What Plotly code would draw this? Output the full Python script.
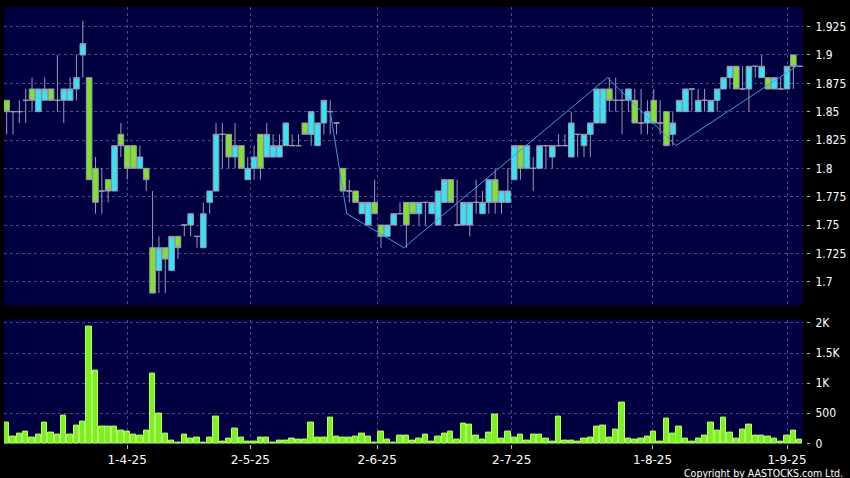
import pandas as pd
import plotly.graph_objects as go

# ---------------- data ----------------
OPEN = [1.86, 1.85, 1.85, 1.86, 1.87, 1.85, 1.86, 1.87, 1.86, 1.86,
        1.86, 1.87, 1.90, 1.88, 1.80, 1.78, 1.79, 1.78, 1.83, 1.82,
        1.82, 1.80, 1.80, 1.73, 1.71, 1.73, 1.71, 1.74, 1.75, 1.75,
        1.74, 1.73, 1.77, 1.78, 1.83, 1.83, 1.81, 1.82, 1.79, 1.80,
        1.83, 1.81, 1.81, 1.81, 1.82, 1.82, 1.82, 1.84, 1.83, 1.82,
        1.84, 1.85, 1.84, 1.80, 1.78, 1.78, 1.76, 1.75, 1.77, 1.75,
        1.74, 1.75, 1.76, 1.77, 1.77, 1.76, 1.77, 1.76, 1.75, 1.77,
        1.79, 1.75, 1.75, 1.75, 1.77, 1.76, 1.77, 1.79, 1.77, 1.77,
        1.79, 1.82, 1.80, 1.80, 1.80, 1.82, 1.81, 1.82, 1.82, 1.81,
        1.83, 1.82, 1.83, 1.84, 1.84, 1.87, 1.86, 1.86, 1.86, 1.86,
        1.84, 1.84, 1.86, 1.84, 1.85, 1.83, 1.85, 1.85, 1.87, 1.85,
        1.86, 1.85, 1.86, 1.87, 1.88, 1.89, 1.87, 1.87, 1.89, 1.88,
        1.88, 1.87, 1.87, 1.87, 1.90, 1.89]
HIGH = [1.86, 1.85, 1.86, 1.87, 1.88, 1.87, 1.88, 1.87, 1.90, 1.87,
        1.88, 1.90, 1.93, 1.88, 1.81, 1.80, 1.79, 1.82, 1.84, 1.82,
        1.82, 1.82, 1.80, 1.78, 1.74, 1.73, 1.74, 1.74, 1.75, 1.76,
        1.74, 1.77, 1.78, 1.84, 1.84, 1.83, 1.84, 1.82, 1.81, 1.82,
        1.83, 1.84, 1.83, 1.83, 1.84, 1.83, 1.83, 1.84, 1.85, 1.84,
        1.86, 1.86, 1.84, 1.80, 1.79, 1.78, 1.77, 1.77, 1.79, 1.75,
        1.75, 1.76, 1.77, 1.77, 1.77, 1.77, 1.77, 1.77, 1.78, 1.79,
        1.79, 1.79, 1.77, 1.77, 1.79, 1.78, 1.79, 1.80, 1.78, 1.80,
        1.82, 1.82, 1.82, 1.81, 1.82, 1.82, 1.82, 1.83, 1.83, 1.85,
        1.83, 1.83, 1.84, 1.87, 1.87, 1.88, 1.88, 1.87, 1.87, 1.87,
        1.87, 1.86, 1.87, 1.86, 1.85, 1.85, 1.86, 1.87, 1.87, 1.87,
        1.87, 1.86, 1.87, 1.88, 1.89, 1.89, 1.89, 1.89, 1.89, 1.90,
        1.88, 1.88, 1.88, 1.89, 1.90, 1.89]
LOW = [1.83, 1.83, 1.84, 1.84, 1.85, 1.85, 1.86, 1.86, 1.85, 1.84,
       1.86, 1.86, 1.88, 1.79, 1.76, 1.76, 1.77, 1.78, 1.81, 1.79,
       1.80, 1.80, 1.78, 1.69, 1.69, 1.69, 1.71, 1.72, 1.74, 1.74,
       1.73, 1.73, 1.76, 1.78, 1.80, 1.80, 1.80, 1.80, 1.79, 1.79,
       1.79, 1.81, 1.81, 1.81, 1.82, 1.82, 1.82, 1.83, 1.82, 1.82,
       1.83, 1.83, 1.83, 1.78, 1.77, 1.77, 1.76, 1.75, 1.76, 1.73,
       1.74, 1.75, 1.76, 1.73, 1.76, 1.75, 1.75, 1.76, 1.75, 1.77,
       1.77, 1.75, 1.75, 1.74, 1.76, 1.76, 1.76, 1.76, 1.76, 1.77,
       1.79, 1.79, 1.80, 1.78, 1.80, 1.80, 1.80, 1.82, 1.82, 1.81,
       1.81, 1.81, 1.81, 1.84, 1.84, 1.85, 1.85, 1.83, 1.85, 1.84,
       1.83, 1.83, 1.84, 1.83, 1.82, 1.82, 1.85, 1.85, 1.85, 1.85,
       1.85, 1.85, 1.85, 1.87, 1.87, 1.87, 1.87, 1.85, 1.88, 1.88,
       1.87, 1.87, 1.87, 1.87, 1.87, 1.89]
CLOSE = [1.85, 1.85, 1.85, 1.86, 1.86, 1.87, 1.87, 1.86, 1.86, 1.87,
         1.87, 1.88, 1.91, 1.79, 1.77, 1.78, 1.78, 1.82, 1.82, 1.80,
         1.80, 1.81, 1.79, 1.69, 1.73, 1.72, 1.74, 1.73, 1.75, 1.76,
         1.74, 1.76, 1.78, 1.83, 1.83, 1.81, 1.82, 1.80, 1.80, 1.81,
         1.80, 1.83, 1.82, 1.82, 1.84, 1.82, 1.82, 1.83, 1.85, 1.84,
         1.86, 1.85, 1.84, 1.78, 1.78, 1.77, 1.77, 1.77, 1.76, 1.74,
         1.75, 1.76, 1.76, 1.75, 1.76, 1.77, 1.77, 1.77, 1.78, 1.79,
         1.77, 1.75, 1.77, 1.77, 1.77, 1.77, 1.79, 1.77, 1.78, 1.78,
         1.82, 1.80, 1.82, 1.80, 1.82, 1.82, 1.82, 1.82, 1.82, 1.84,
         1.83, 1.83, 1.84, 1.87, 1.87, 1.86, 1.86, 1.86, 1.87, 1.84,
         1.84, 1.85, 1.84, 1.84, 1.82, 1.84, 1.86, 1.87, 1.87, 1.86,
         1.86, 1.86, 1.87, 1.88, 1.89, 1.87, 1.87, 1.89, 1.89, 1.89,
         1.87, 1.88, 1.87, 1.89, 1.89, 1.89]
VOLUME = [350, 121, 165, 198, 99, 143, 346, 181, 154, 456,
          154, 302, 362, 1943, 1202, 275, 275, 275, 220, 192,
          148, 137, 209, 1153, 489, 165, 55, 16, 154, 88,
          99, 16, 99, 450, 22, 88, 253, 104, 27, 38,
          104, 104, 16, 44, 55, 82, 66, 66, 346, 99,
          99, 428, 110, 93, 93, 121, 165, 110, 16, 192,
          66, 10, 137, 126, 49, 82, 154, 22, 121, 165,
          198, 66, 329, 318, 137, 66, 181, 483, 82, 192,
          93, 143, 44, 154, 154, 82, 38, 439, 44, 49,
          33, 82, 99, 275, 296, 104, 231, 675, 82, 60,
          88, 115, 203, 38, 412, 165, 275, 88, 38, 82,
          137, 346, 220, 423, 176, 77, 236, 313, 126, 126,
          115, 88, 27, 137, 220, 71]

# HK trading calendar for the period shown
HK_HOLIDAYS = ["2025-04-04", "2025-04-18", "2025-04-21", "2025-05-01",
               "2025-05-05", "2025-07-01"]
DATES = pd.bdate_range("2025-03-05", "2025-09-04", freq="C",
                       holidays=HK_HOLIDAYS).strftime("%Y-%m-%d").tolist()

# zig-zag overlay: (candle position, price)
ZIGZAG_POS = [51, 53.6, 62.6, 94.7, 105.5, 124.5]
ZIGZAG_VAL = [1.85, 1.76, 1.73, 1.88, 1.82, 1.89]

# axis ticks
X_TICK_POS = [19, 38.4, 58.4, 79.6, 101.8, 123]
X_TICK_TEXT = ["1-4-25", "2-5-25", "2-6-25", "2-7-25", "1-8-25", "1-9-25"]
PRICE_TICKS = [1.7, 1.725, 1.75, 1.775, 1.8, 1.825, 1.85, 1.875, 1.9, 1.925]
PRICE_TICK_TEXT = ["1.7", "1.725", "1.75", "1.775", "1.8", "1.825",
                   "1.85", "1.875", "1.9", "1.925"]
VOL_TICKS = [0, 500, 1000, 1500, 2000]
VOL_TICK_TEXT = ["0", "500", "1K", "1.5K", "2K"]

# ---------------- styling ----------------
NAVY = "#000040"
GRID = "#4a4a88"
WICK = "#9a9ab4"
UP = "#36e3f3"
DOWN = "#82e22a"
FONT = "DejaVu Sans"
FONT_C = "DejaVu Sans Condensed, DejaVu Sans"

pos = list(range(len(OPEN)))

fig = go.Figure()
fig.add_trace(go.Candlestick(
    x=pos, open=OPEN, high=HIGH, low=LOW, close=CLOSE,
    text=DATES[:len(OPEN)], hoverinfo="text+y",
    increasing=dict(fillcolor=UP, line=dict(color=WICK, width=1)),
    decreasing=dict(fillcolor=DOWN, line=dict(color=WICK, width=1)),
    whiskerwidth=0, xaxis="x", yaxis="y", showlegend=False))
fig.add_trace(go.Scatter(
    x=ZIGZAG_POS, y=ZIGZAG_VAL, mode="lines",
    line=dict(color="#3d9be0", width=1), xaxis="x", yaxis="y",
    hoverinfo="skip", showlegend=False))
fig.add_trace(go.Bar(
    x=pos, y=VOLUME, width=0.85,
    marker=dict(color="#7cf020", line=dict(color="#b4ff6a", width=1)),
    xaxis="x2", yaxis="y2", showlegend=False))

XR = [-0.42, len(OPEN) - 0.48]
grid = dict(showgrid=True, gridcolor=GRID, gridwidth=1, griddash="3px,3px")
ytick = dict(ticks="outside", ticklen=3, tickcolor="#bbbbbb",
             zeroline=False, anchor="free", position=1.0, shift=3,
             ticklabelstandoff=3,
             tickfont=dict(family=FONT_C, size=12, color="white"))

fig.update_layout(
    width=850, height=478,
    margin=dict(l=4, r=43, t=5, b=34),
    paper_bgcolor="black", plot_bgcolor=NAVY,
    font=dict(family=FONT, color="white", size=12),
    boxgap=0.12, boxgroupgap=0, bargap=0,
    xaxis=dict(domain=[0, 1], anchor="y", range=XR, tickvals=X_TICK_POS,
               showticklabels=False, ticks="", zeroline=False,
               rangeslider=dict(visible=False), **grid),
    yaxis=dict(domain=[0.3166, 1.0], side="right",
               range=[1.6789, 1.9423], tickvals=PRICE_TICKS,
               ticktext=PRICE_TICK_TEXT, **ytick, **grid),
    xaxis2=dict(domain=[0, 1], anchor="y2", range=XR, matches="x",
                tickvals=X_TICK_POS, ticktext=X_TICK_TEXT,
                ticks="outside", ticklen=4, tickcolor="#bbbbbb",
                zeroline=False, ticklabelstandoff=1,
                tickfont=dict(family=FONT, size=12, color="white"), **grid),
    yaxis2=dict(domain=[0, 0.2847], side="right",
                range=[-10, 2055], tickvals=VOL_TICKS, ticktext=VOL_TICK_TEXT,
                **ytick, **grid),
    annotations=[dict(text="Copyright by AASTOCKS.com Ltd.",
                      xref="paper", yref="paper", x=1.052, y=-0.066,
                      xanchor="right", yanchor="middle", showarrow=False,
                      font=dict(family=FONT_C, size=10.5, color="white"))],
)

fig.write_html("out.html", config={"displayModeBar": False},
               post_script="document.body.style.margin='0';"
                           "document.body.style.background='black';")
